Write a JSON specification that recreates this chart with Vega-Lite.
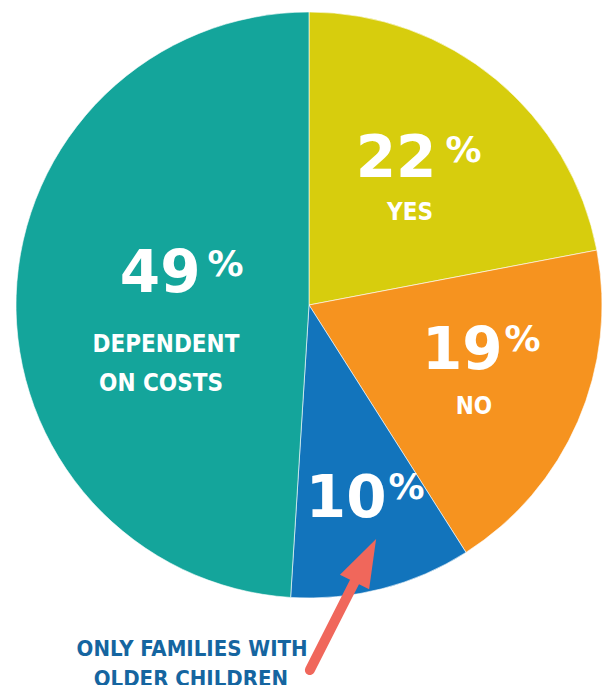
{
  "$schema": "https://vega.github.io/schema/vega-lite/v6.json",
  "width": 586,
  "height": 586,
  "padding": {"left": 14, "top": 10, "right": 8, "bottom": 89},
  "background": "white",
  "config": {"view": {"stroke": null}},
  "datasets": {
    "slices": [
      {"cat": "YES", "value": 22, "ord": 1},
      {"cat": "NO", "value": 19, "ord": 2},
      {"cat": "ONLY FAMILIES WITH OLDER CHILDREN", "value": 10, "ord": 3},
      {"cat": "DEPENDENT ON COSTS", "value": 49, "ord": 4}
    ],
    "nums": [
      {"t": "22", "u": 0.297, "v": 0.495},
      {"t": "49", "u": -0.508, "v": 0.102},
      {"t": "19", "u": 0.523, "v": -0.160},
      {"t": "10", "u": 0.127, "v": -0.666}
    ],
    "pcts": [
      {"t": "%", "u": 0.527, "v": 0.527},
      {"t": "%", "u": -0.285, "v": 0.135},
      {"t": "%", "u": 0.729, "v": -0.118},
      {"t": "%", "u": 0.333, "v": -0.626}
    ],
    "labels": [
      {"t": "YES", "u": 0.345, "v": 0.314},
      {"t": "DEPENDENT", "u": -0.488, "v": -0.137},
      {"t": "ON COSTS", "u": -0.505, "v": -0.271},
      {"t": "NO", "u": 0.563, "v": -0.348}
    ],
    "notes": [
      {"t": "ONLY FAMILIES WITH", "u": -0.399, "v": -1.174},
      {"t": "OLDER CHILDREN", "u": -0.403, "v": -1.276}
    ],
    "arrow": [
      {"u": 0.003, "v": -1.246, "u2": 0.167, "v2": -0.922}
    ],
    "tip": [
      {"u": 0.229, "v": -0.799}
    ]
  },
  "layer": [
    {
      "data": {"name": "slices"},
      "mark": {"type": "arc", "outerRadius": 293, "stroke": "white", "strokeWidth": 0.6},
      "encoding": {
        "theta": {"field": "value", "type": "quantitative", "stack": true},
        "order": {"field": "ord", "type": "quantitative"},
        "color": {
          "field": "cat",
          "type": "nominal",
          "scale": {
            "domain": ["YES", "NO", "ONLY FAMILIES WITH OLDER CHILDREN", "DEPENDENT ON COSTS"],
            "range": ["#d7cd0d", "#f6931f", "#1274bc", "#14a59b"]
          },
          "legend": null
        }
      }
    },
    {
      "data": {"name": "nums"},
      "mark": {"type": "text", "font": "DejaVu Sans", "fontWeight": "bold", "fontSize": 58, "color": "white", "align": "center", "baseline": "middle"},
      "encoding": {
        "x": {"field": "u", "type": "quantitative", "scale": {"domain": [-1, 1]}, "axis": null},
        "y": {"field": "v", "type": "quantitative", "scale": {"domain": [-1, 1]}, "axis": null},
        "text": {"field": "t"}
      }
    },
    {
      "data": {"name": "pcts"},
      "mark": {"type": "text", "font": "DejaVu Sans", "fontWeight": "bold", "fontSize": 36, "color": "white", "align": "center", "baseline": "middle"},
      "encoding": {
        "x": {"field": "u", "type": "quantitative"},
        "y": {"field": "v", "type": "quantitative"},
        "text": {"field": "t"}
      }
    },
    {
      "data": {"name": "labels"},
      "mark": {"type": "text", "font": "DejaVu Sans Condensed", "fontWeight": "bold", "fontSize": 24, "color": "white", "align": "center", "baseline": "middle"},
      "encoding": {
        "x": {"field": "u", "type": "quantitative"},
        "y": {"field": "v", "type": "quantitative"},
        "text": {"field": "t"}
      }
    },
    {
      "data": {"name": "notes"},
      "mark": {"type": "text", "font": "DejaVu Sans Condensed", "fontWeight": "bold", "fontSize": 22, "color": "#1565a0", "align": "center", "baseline": "middle"},
      "encoding": {
        "x": {"field": "u", "type": "quantitative"},
        "y": {"field": "v", "type": "quantitative"},
        "text": {"field": "t"}
      }
    },
    {
      "data": {"name": "arrow"},
      "mark": {"type": "rule", "color": "#f0675b", "strokeWidth": 10, "strokeCap": "round"},
      "encoding": {
        "x": {"field": "u", "type": "quantitative"},
        "y": {"field": "v", "type": "quantitative"},
        "x2": {"field": "u2"},
        "y2": {"field": "v2"}
      }
    },
    {
      "data": {"name": "tip"},
      "mark": {"type": "point", "shape": "M0,0L0.34,1L-0.34,1Z", "size": 9216, "angle": 26.7, "filled": true, "color": "#f0675b", "opacity": 1, "strokeWidth": 0},
      "encoding": {
        "x": {"field": "u", "type": "quantitative"},
        "y": {"field": "v", "type": "quantitative"}
      }
    }
  ]
}
